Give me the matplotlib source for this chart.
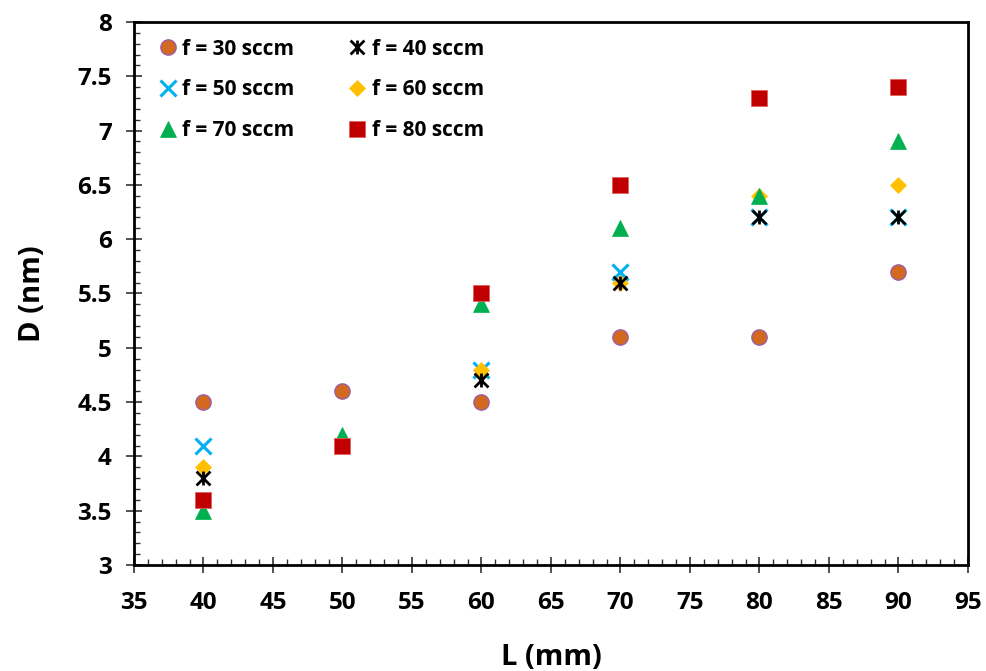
import numpy as np
import matplotlib
matplotlib.use("Agg")
import matplotlib.pyplot as plt
from matplotlib.path import Path
from matplotlib.ticker import MultipleLocator

plt.rcParams['font.family'] = ['Open Sans', 'DejaVu Sans']
plt.rcParams['font.weight'] = 'bold'

L = [40, 50, 60, 70, 80, 90]
labels = ["f = 30 sccm", "f = 40 sccm", "f = 50 sccm", "f = 60 sccm", "f = 70 sccm", "f = 80 sccm"]
f30 = [4.5, 4.6, 4.5, 5.1, 5.1, 5.7]
f40 = [3.8, np.nan, 4.7, 5.6, 6.2, 6.2]
f50 = [4.1, np.nan, 4.8, 5.7, 6.2, 6.2]
f60 = [3.9, np.nan, 4.8, 5.6, 6.4, 6.5]
f70 = [3.5, 4.2, 5.4, 6.1, 6.4, 6.9]
f80 = [3.6, 4.1, 5.5, 6.5, 7.3, 7.4]

star = Path([(-1, -1), (1, 1), (-1, 1), (1, -1), (0, -1), (0, 1)],
            [Path.MOVETO, Path.LINETO, Path.MOVETO, Path.LINETO, Path.MOVETO, Path.LINETO])

fig = plt.figure(figsize=(9.86, 6.71), dpi=100)
ax = fig.add_axes([0.1359, 0.158, 0.9817 - 0.1359, 0.9672 - 0.158])

h = []
h.append(ax.plot(L, f30, 'o', ms=11, mfc='#D2691E', mec='#9A5FA8', mew=1, ls='none', zorder=3)[0])
h.append(ax.plot(L, f40, ls='none', marker=star, ms=10, mfc='none', mec='black', mew=2, zorder=5)[0])
h.append(ax.plot(L, f50, 'x', ms=11, mec='#00B0F0', mew=2.2, ls='none', zorder=4)[0])
h.append(ax.plot(L, f60, 'D', ms=8, mfc='#FFC000', mec='#FFC000', mew=0.5, ls='none', zorder=4)[0])
h.append(ax.plot(L, f70, '^', ms=11, mfc='#00B050', mec='#00B050', mew=0.5, ls='none', zorder=6)[0])
h.append(ax.plot(L, f80, 's', ms=11, mfc='#C00000', mec='#E06060', mew=0.6, ls='none', zorder=7)[0])

ax.set_xlim(35, 95)
ax.set_ylim(3, 8)
ax.xaxis.set_major_locator(MultipleLocator(5))
ax.xaxis.set_minor_locator(MultipleLocator(1))
ax.yaxis.set_major_locator(MultipleLocator(0.5))
ax.yaxis.set_minor_locator(MultipleLocator(0.1))
ax.tick_params(which='major', direction='inout', length=12, width=1.2, labelsize=17.5, color='#333333')
ax.tick_params(axis='x', which='major', pad=13)
ax.tick_params(axis='y', which='major', pad=10)
ax.tick_params(which='minor', direction='in', length=4, width=1, color='#333333')
ax.yaxis.set_major_formatter(matplotlib.ticker.FuncFormatter(lambda v, p: ('%g' % v)))
for s in ax.spines.values():
    s.set_linewidth(2)
for lab in ax.get_xticklabels() + ax.get_yticklabels():
    lab.set_fontweight('bold')

ax.set_xlabel('L (mm)', fontsize=21, fontweight='bold', labelpad=20)
ax.set_ylabel('D (nm)', fontsize=21, fontweight='bold', labelpad=22)

order = [0, 2, 4, 1, 3, 5]
leg = ax.legend([h[i] for i in order], [labels[i] for i in order], ncol=2, frameon=False,
                loc='upper left', bbox_to_anchor=(0.008, 1.004), fontsize=15,
                handlelength=0.8, handletextpad=0.3, columnspacing=2.6, labelspacing=0.95,
                borderaxespad=0.5)
for t in leg.get_texts():
    t.set_fontweight('bold')

fig.savefig('out.png', dpi=100)
